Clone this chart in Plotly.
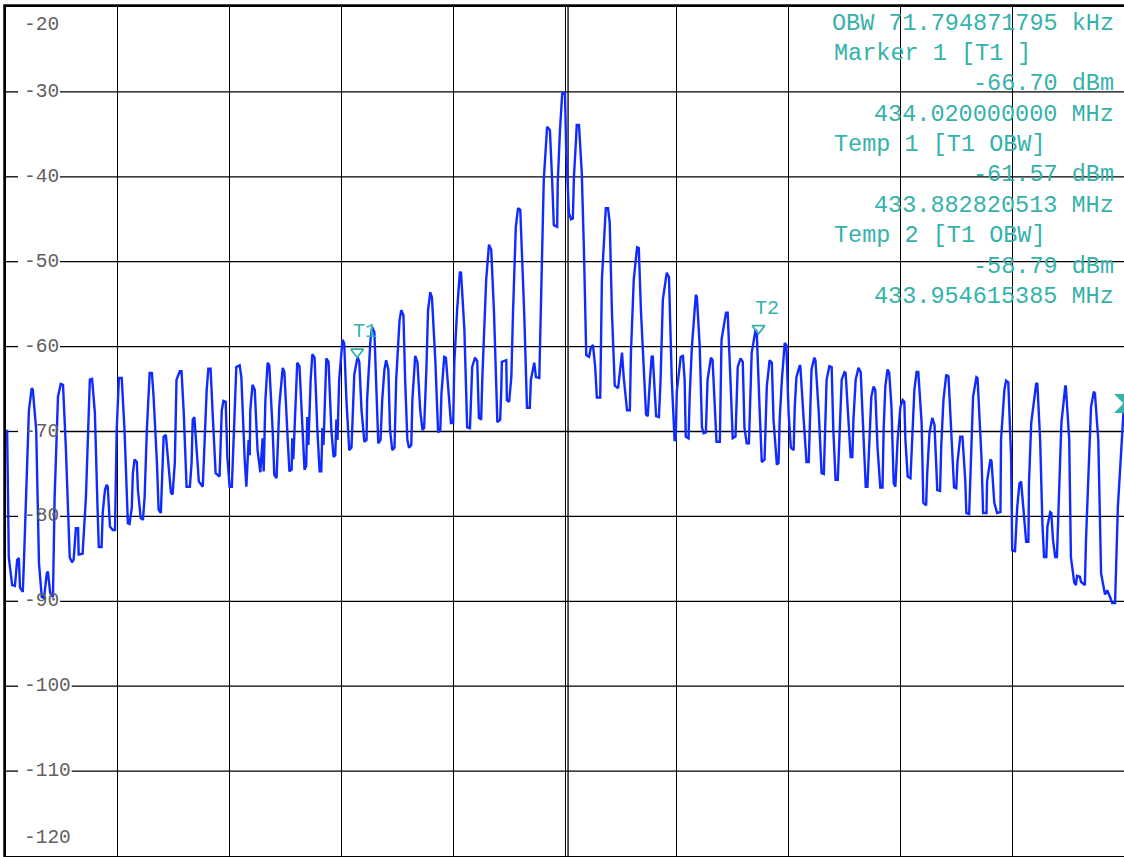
import plotly.graph_objects as go

# ---------------- data ----------------
CENTER_MHZ = 433.92  # centre frequency, x axis is offset from it in kHz

# trace: (offset kHz, level dBm)
seg_a = [(-99.8,-69.8),(-99.5,-84.8),(-98.9,-88.1),(-98.4,-88.2),(-98.0,-85.1),(-97.7,-84.9),(-97.5,-88.4),(-97.0,-88.9),(-96.8,-85.5),(-95.9,-67.5),(-95.4,-64.9),(-95.2,-65.1),(-94.6,-69.8),(-94.1,-85.5),(-93.6,-89.5),(-93.2,-89.6),(-92.7,-86.7),(-92.5,-86.5),(-92.1,-89.0),(-91.6,-89.5),(-91.3,-77.7),(-90.7,-65.9),(-90.2,-64.4),(-89.8,-64.5),(-89.3,-71.8),(-88.6,-84.8),(-88.2,-85.4),(-87.9,-85.1),(-87.5,-81.4),(-87.1,-81.4),(-87.0,-84.5),(-86.3,-84.4),(-85.7,-77.7),(-85.0,-63.9),(-84.6,-63.8),(-84.1,-67.8),(-83.6,-79.6),(-83.4,-83.6),(-82.9,-83.6),(-82.7,-79.6),(-82.3,-76.9),(-82.0,-76.3),(-81.8,-76.5),(-81.4,-81.2),(-80.9,-81.6),(-80.5,-81.6),(-80.2,-69.8),(-79.8,-63.7),(-79.3,-63.7),(-78.8,-69.8),(-78.2,-80.8),(-77.9,-80.9),(-77.5,-79.0),(-77.3,-74.9),(-77.0,-73.3),(-76.6,-73.6),(-76.4,-76.9),(-75.9,-80.2),(-75.5,-80.4),(-75.2,-77.7),(-74.8,-69.8),(-74.3,-63.1),(-73.9,-63.1),(-73.6,-65.9),(-73.0,-73.7),(-72.7,-79.2),(-72.3,-79.6),(-72.0,-73.7),(-71.8,-70.6),(-71.4,-70.4),(-71.1,-73.0),(-70.5,-77.2),(-70.2,-77.4),(-69.8,-73.7),(-69.5,-63.9),(-68.9,-62.9),(-68.6,-62.9),(-68.2,-67.8),(-67.7,-76.5),(-67.1,-76.5),(-66.8,-73.7),(-66.6,-68.6),(-66.3,-68.3),(-65.9,-71.8),(-65.5,-75.9),(-64.8,-76.5),(-64.5,-71.0),(-64.1,-65.1),(-63.8,-62.6),(-63.4,-62.6),(-63.0,-68.3),(-62.5,-74.9),(-61.8,-75.3),(-61.4,-67.5),(-61.1,-66.4),(-60.7,-66.5),(-60.4,-73.0),(-60.0,-76.5),(-59.6,-76.5),(-59.1,-67.8),(-58.8,-62.4),(-58.2,-62.2)]

seg_b = [(-57.9,-63.6),(-57.3,-73.3),(-57.0,-76.5),(-56.6,-71.0),(-56.4,-72.8),(-56.3,-67.5),(-55.9,-64.5),(-55.5,-65.1),(-55.0,-72.2),(-54.5,-74.8),(-54.1,-70.8),(-53.9,-74.7),(-53.6,-66.3),(-53.2,-61.9),(-52.9,-62.2),(-52.3,-69.8),(-52.0,-75.1),(-51.6,-75.5),(-51.3,-71.0),(-51.1,-66.9),(-50.5,-62.5),(-50.2,-63.0),(-49.6,-71.0),(-49.3,-74.7),(-48.9,-74.5),(-48.8,-70.8),(-48.6,-73.3),(-48.2,-66.3),(-47.9,-61.9),(-47.5,-62.3),(-47.0,-69.8),(-46.6,-74.5),(-46.3,-74.1),(-46.1,-68.3),(-45.9,-71.6),(-45.5,-63.9),(-45.2,-60.9),(-44.8,-61.3),(-44.3,-69.8),(-43.9,-74.7),(-43.6,-74.7),(-43.4,-69.6),(-43.2,-71.6),(-42.9,-65.1),(-42.7,-61.4),(-42.3,-61.8),(-41.8,-69.8),(-41.4,-73.0),(-41.1,-72.8),(-40.9,-68.6),(-40.7,-71.0),(-40.4,-63.9),(-39.8,-59.2),(-39.5,-59.6),(-39.1,-66.3),(-38.6,-72.2),(-38.2,-71.9),(-38.0,-68.6),(-37.7,-63.3),(-37.1,-61.2),(-36.8,-61.8),(-36.4,-67.5),(-35.9,-71.2),(-35.5,-71.0),(-35.4,-66.3),(-34.8,-59.2),(-34.5,-57.7),(-34.1,-58.3),(-33.8,-65.1),(-33.4,-71.4),(-33.0,-71.0),(-32.7,-66.3),(-32.3,-62.7),(-32.0,-61.6),(-31.6,-62.7),(-31.3,-69.8),(-30.9,-72.2),(-30.5,-71.9),(-30.2,-63.9),(-29.6,-56.9),(-29.3,-55.7),(-28.9,-56.3),(-28.6,-63.9),(-28.2,-71.0),(-27.9,-71.9),(-27.5,-71.6),(-27.3,-66.3),(-26.8,-61.1),(-26.4,-61.8),(-25.9,-67.5),(-25.5,-69.8),(-25.2,-69.6),(-24.8,-62.7),(-24.5,-55.7),(-24.1,-53.6),(-23.8,-54.2),(-23.2,-61.6),(-22.7,-70.1),(-22.3,-69.8)]

seg_c = [(-22.1,-65.5),(-21.6,-61.2),(-21.3,-61.3),(-21.1,-63.1),(-20.4,-69.0),(-20.0,-69.0),(-19.8,-61.9),(-19.3,-55.7),(-18.8,-51.2),(-18.6,-51.3),(-18.0,-58.0),(-17.5,-69.5),(-17.0,-69.6),(-16.6,-62.4),(-16.1,-61.3),(-15.7,-61.7),(-15.4,-68.4),(-15.0,-68.6),(-14.8,-63.9),(-14.1,-52.1),(-13.6,-48.0),(-13.2,-48.6),(-12.7,-56.0),(-12.1,-68.9),(-11.6,-68.6),(-11.4,-65.1),(-11.3,-61.8),(-10.5,-61.6),(-10.4,-66.3),(-10.0,-66.5),(-9.6,-63.6),(-9.3,-56.0),(-8.8,-45.9),(-8.4,-43.7),(-8.0,-43.9),(-7.3,-56.0),(-6.8,-67.2),(-6.3,-67.2),(-6.1,-63.9),(-5.5,-61.9),(-5.2,-63.6),(-4.6,-63.7),(-4.3,-56.0),(-3.8,-40.4),(-3.2,-34.1),(-2.7,-34.5),(-2.3,-40.4),(-2.0,-45.7),(-1.4,-45.9),(-1.3,-40.7),(-0.9,-34.5),(-0.5,-30.2),(0.0,-30.1),(0.2,-36.5),(0.7,-44.3),(1.1,-45.0),(1.4,-44.9),(1.6,-40.0),(2.0,-35.3),(2.1,-33.9),(2.5,-33.9),(3.0,-39.5),(3.4,-49.0),(3.8,-61.0),(4.3,-61.2),(4.6,-60.2),(5.0,-59.8),(5.4,-62.4),(5.7,-66.0),(6.3,-66.0),(6.6,-52.1),(7.3,-43.7),(7.7,-43.7),(8.0,-45.4),(8.4,-56.0),(8.9,-64.6),(9.5,-64.9),(10.0,-61.2),(10.2,-60.7),(10.5,-63.6),(11.1,-67.5),(11.6,-67.5),(11.8,-60.7),(12.3,-52.1),(12.9,-48.3),(13.2,-48.4),(13.6,-56.0),(14.5,-68.0),(14.8,-68.2),(15.2,-63.9),(15.5,-61.2),(15.7,-61.1),(16.3,-68.2),(16.8,-68.3),(17.1,-63.9),(17.5,-54.5),(18.2,-51.3),(18.6,-51.8),(19.1,-63.9),(19.6,-71.0),(19.8,-71.0),(20.0,-65.3),(20.7,-61.2),(21.1,-61.1)]

seg_d = [(21.4,-63.9),(21.6,-70.6),(22.1,-70.8),(22.3,-65.9),(22.7,-60.0),(23.4,-53.9),(23.6,-54.2),(24.1,-60.0),(24.5,-69.5),(24.8,-70.2),(25.2,-70.1),(25.5,-63.9),(26.1,-61.3),(26.4,-61.6),(26.8,-67.1),(27.1,-71.2),(27.7,-71.2),(27.9,-65.1),(28.0,-59.2),(28.8,-56.0),(29.1,-56.0),(29.6,-63.9),(30.0,-70.8),(30.5,-70.6),(30.7,-66.6),(30.9,-62.4),(31.4,-61.4),(31.8,-61.8),(32.1,-69.5),(32.5,-71.4),(32.9,-71.4),(33.2,-65.9),(33.4,-60.7),(34.1,-58.0),(34.3,-58.3),(34.8,-67.1),(35.2,-73.6),(35.7,-73.3),(35.9,-69.8),(36.1,-64.7),(36.6,-61.6),(37.0,-61.9),(37.3,-68.6),(37.9,-73.9),(38.2,-73.7),(38.4,-68.6),(38.8,-63.9),(39.3,-59.6),(39.6,-59.8),(40.0,-67.8),(40.4,-71.9),(40.9,-72.2),(41.1,-67.1),(41.4,-63.6),(42.0,-62.2),(42.1,-62.3),(42.7,-68.6),(43.2,-73.6),(43.6,-73.6),(43.8,-68.6),(44.1,-62.7),(44.6,-61.3),(44.8,-61.6),(45.4,-67.8),(45.9,-74.9),(46.3,-75.0),(46.6,-69.0),(46.8,-63.9),(47.3,-62.3),(47.7,-62.4),(48.0,-69.8),(48.4,-75.7),(48.8,-75.7),(49.1,-69.8),(49.5,-63.9),(50.0,-63.0),(50.2,-63.1),(50.7,-68.6),(51.1,-73.0),(51.4,-73.0),(51.6,-68.6),(52.0,-63.9),(52.5,-62.5),(52.9,-63.0),(53.4,-69.8),(53.8,-76.5),(54.1,-76.5),(54.5,-69.8),(54.8,-65.9),(55.2,-64.7),(55.5,-65.1),(55.9,-71.8),(56.4,-76.6),(56.8,-76.6),(57.0,-69.8),(57.3,-64.7),(57.7,-62.7),(58.0,-63.1)]

seg_e = [(58.4,-67.1),(58.8,-76.1),(59.1,-76.5),(59.5,-71.0),(60.0,-67.1),(60.4,-66.3),(60.7,-66.5),(60.9,-71.0),(61.3,-75.3),(61.8,-75.5),(62.1,-71.0),(62.5,-65.1),(62.9,-63.0),(63.2,-63.0),(63.8,-69.0),(64.1,-78.4),(64.6,-78.7),(64.8,-74.9),(65.2,-70.2),(65.7,-68.4),(66.1,-69.2),(66.3,-73.0),(66.6,-76.9),(67.1,-77.0),(67.3,-71.8),(67.7,-66.3),(68.2,-63.3),(68.6,-63.5),(69.1,-71.0),(69.6,-76.6),(70.0,-76.7),(70.2,-73.7),(70.7,-70.6),(71.1,-70.6),(71.6,-75.7),(71.8,-79.6),(72.3,-79.7),(72.7,-71.0),(73.0,-65.9),(73.6,-63.6),(73.8,-63.7),(74.5,-73.0),(74.8,-79.6),(75.4,-79.6),(75.5,-75.9),(76.1,-73.3),(76.3,-73.5),(76.8,-78.4),(77.3,-79.6),(77.9,-79.5),(78.0,-71.0),(78.6,-65.1),(78.9,-64.0),(79.3,-64.2),(79.8,-73.0),(80.0,-84.0),(80.5,-84.1),(80.9,-78.9),(81.3,-76.1),(81.6,-75.9),(82.1,-79.6),(82.5,-83.0),(82.9,-83.0),(83.0,-76.1),(83.4,-69.0),(84.3,-64.3),(84.5,-64.4),(85.0,-71.0),(85.4,-80.8),(85.7,-84.8),(86.1,-84.8),(86.3,-81.2),(86.8,-79.5),(87.0,-79.6),(87.3,-82.8),(87.7,-84.8),(88.0,-84.8),(88.2,-80.8),(88.8,-69.0),(89.5,-64.6),(89.6,-64.7),(90.2,-71.0),(90.5,-84.8),(91.1,-87.8),(91.4,-88.1),(91.6,-87.0),(92.1,-87.1),(92.3,-87.7),(93.0,-88.1),(93.2,-82.8),(93.8,-73.0),(94.1,-67.1),(94.6,-65.3),(94.8,-65.5),(95.4,-71.0),(95.9,-86.7),(96.6,-89.2),(97.0,-88.7),(97.5,-89.5),(97.9,-90.2),(98.4,-90.2),(98.9,-78.9),(100.0,-66.7)]

y_ticks = [-20, -30, -40, -50, -60, -70, -80, -90, -100, -110, -120]
x_grid_khz = [-100, -80, -60, -40, -20, 0, 20, 40, 60, 80, 100]

info_lines = ["OBW 71.794871795 kHz", "Marker 1 [T1 ]", "-66.70 dBm", "434.020000000 MHz",
              "Temp 1 [T1 OBW]", "-61.57 dBm", "433.882820513 MHz",
              "Temp 2 [T1 OBW]", "-58.79 dBm", "433.954615385 MHz"]
info_align = ["right", "left", "right", "right", "left", "right", "right", "left", "right", "right"]

temp_names = ["T1", "T2"]
temp_freq_mhz = [433.882820513, 433.954615385]
temp_level_dbm = [-61.57, -58.79]
marker1_freq_mhz = 434.020000000
marker1_level_dbm = -66.70

# ---------------- layout geometry ----------------
W, H = 1126, 857          # page is 1124 wide; the last 2 px (right frame) fall off screen
L, T, B = 6, 7, 1
PW, PH = W - L, H - T - B

TEAL = "#35b2aa"
GREY = "#606060"
BLUE = "#0f2bff"
MONO = "Liberation Mono, Courier New, monospace"


def paper_x(px):
    return (px - L) / PW


def paper_y(py):
    return 1 - (py - T) / PH


segments = [seg_a, seg_b, seg_c, seg_d, seg_e]
freq_khz = [p[0] for s in segments for p in s]
level_dbm = [p[1] for s in segments for p in s]

fig = go.Figure()
fig.add_trace(go.Scatter(x=freq_khz, y=level_dbm, mode="lines",
                         line=dict(color=BLUE, width=2.4), hoverinfo="skip", showlegend=False))

temp_khz = [(f - CENTER_MHZ) * 1000 for f in temp_freq_mhz]
fig.add_trace(go.Scatter(x=temp_khz, y=temp_level_dbm, mode="markers", cliponaxis=False,
                         marker=dict(symbol="triangle-up-open", angle=180, standoff=8, size=11,
                                     color=TEAL, line=dict(color=TEAL, width=1.8)),
                         hoverinfo="skip", showlegend=False))
fig.add_trace(go.Scatter(x=[(marker1_freq_mhz - CENTER_MHZ) * 1000], y=[marker1_level_dbm],
                         mode="markers", cliponaxis=False,
                         marker=dict(symbol="hourglass", size=18, color=TEAL,
                                     line=dict(color=TEAL, width=1)),
                         hoverinfo="skip", showlegend=False))

shapes = []
annotations = []

# horizontal grid lines drawn as shapes, broken where the inside tick labels sit
CHAR_W = 11.7
for v in y_ticks:
    txt = str(v)
    shift = 0
    if v == y_ticks[0]:
        shift = -18
    elif v == y_ticks[-1]:
        shift = 18
    else:
        gap0 = paper_x(18)
        gap1 = paper_x(22 + len(txt) * CHAR_W + 3)
        for a, b in ((0, gap0), (gap1, 1)):
            shapes.append(dict(type="line", layer="below", xref="paper", yref="y",
                               x0=a, x1=b, y0=v, y1=v, line=dict(color="black", width=1.3)))
    annotations.append(dict(text=txt, xref="paper", yref="y", x=paper_x(22), y=v,
                            xanchor="left", yanchor="middle", yshift=shift, showarrow=False,
                            font=dict(family=MONO, size=19.5, color=GREY)))

# second vertical line just right of centre
shapes.append(dict(type="line", layer="below", xref="x", yref="paper",
                   x0=0.55, x1=0.55, y0=0, y1=1, line=dict(color="black", width=1.3)))
# outer double frame
shapes.append(dict(type="rect", xref="paper", yref="paper",
                   x0=-2.5 / PW, x1=1 + 10 / PW, y0=-10 / PH, y1=1 + 2.5 / PH,
                   line=dict(color="#444444", width=1), fillcolor="rgba(0,0,0,0)"))

# marker info text block
for i, (txt, al) in enumerate(zip(info_lines, info_align)):
    py = 23 + i * 30.4
    left = al == "left"
    annotations.append(dict(text=txt, xref="paper", yref="paper",
                            x=paper_x(833) if left else paper_x(1118), y=paper_y(py),
                            xanchor="left" if left else "right", yanchor="middle", showarrow=False,
                            font=dict(family=MONO, size=23.5, color=TEAL)))

# marker labels
for name, fx, lv in zip(temp_names, temp_khz, temp_level_dbm):
    annotations.append(dict(text=name, xref="x", yref="y", x=fx, y=lv, xshift=8, yshift=28,
                            showarrow=False, font=dict(family=MONO, size=20, color=TEAL)))

fig.update_layout(
    width=W, height=H,
    margin=dict(l=L, r=0, t=T, b=B, pad=0),
    paper_bgcolor="white", plot_bgcolor="white",
    shapes=shapes, annotations=annotations,
    xaxis=dict(range=[-100, 100], tickmode="array", tickvals=x_grid_khz, showticklabels=False,
               ticks="", showgrid=True, gridcolor="black", gridwidth=1.3, zeroline=False,
               showline=True, linecolor="black", linewidth=1.5, mirror=True, fixedrange=True),
    yaxis=dict(range=[-120, -20], tickmode="array", tickvals=y_ticks, showticklabels=False,
               ticks="", showgrid=False, zeroline=False,
               showline=True, linecolor="black", linewidth=1.5, mirror=True, fixedrange=True),
)

fig.write_html("out.html", config={"displayModeBar": False},
               post_script="document.body.style.margin='0';document.body.style.overflow='hidden';")
